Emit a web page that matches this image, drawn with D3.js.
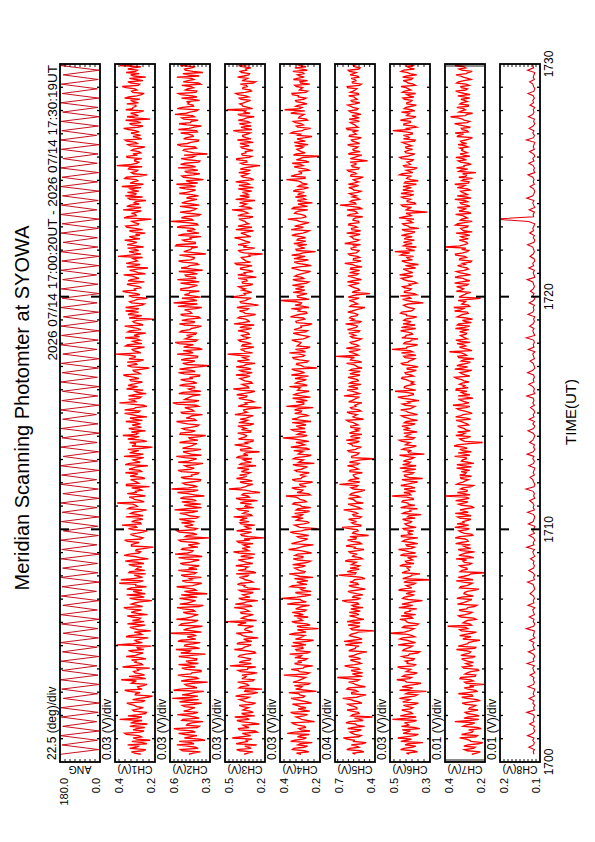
<!DOCTYPE html>
<html>
<head>
<meta charset="utf-8">
<title>Meridian Scanning Photomter at SYOWA</title>
<script src="https://cdn.jsdelivr.net/npm/d3@7"></script>
<style>
  body { margin: 0; background: #fff; }
  svg { display: block; font-family: "Liberation Sans", Arial, sans-serif; }
</style>
</head>
<body>
<svg id="chart" width="595" height="842"></svg>
<script>
// scan angle (deg), one sample every 12 s from 17:00:20
var angDeg = [
  176,6,171,12,179,3,168,15,174,8,177,4,165,11,172,2,178,9,170,14,
  175,5,169,13,178,7,166,10,173,3,179,12,167,6,174,16,171,4,177,9,
  168,11,176,2,172,14,179,7,165,10,174,5,170,13,178,3,167,8,175,15,
  173,4,179,11,166,6,177,13,171,2,175,9,168,16,178,5,172,10,169,3,
  177,12,170,7,174,1,167,14,179,8,173,4,176,11,165,6,178,13,171,2,
  174,9,168,15,177,5,172,3,179,10,166,12,175,7,170,4,178,14,173,8,
  169,2,176,11,171,6,178,13,167,9,174,4,179,15,172,7,175,3,168,10,
  177,5,170,12,174,8,166,3,178,11
];
// channel outputs (mV). chN: samples every 6 s from 17:00:20,
// chNMid: the samples taken 3 s after each of those
var ch1 = [
  271,318,246,295,337,262,224,309,281,352,255,290,326,238,301,377,266,284,243,312,
  258,303,341,249,279,212,297,330,264,287,240,308,369,277,252,299,283,226,321,268,
  294,245,344,279,312,256,290,392,263,301,234,329,276,221,306,285,338,254,280,315,
  237,319,268,356,287,301,215,327,276,249,309,341,243,296,282,371,262,304,331,251,
  286,312,255,349,233,301,328,272,294,208,318,279,352,260,306,289,238,333,297,270,
  317,261,346,284,308,242,325,296,389,271,310,248,339,298,280,227,343,291,322,265,
  302,348,275,311,236,329,292,281,355,258,307,336,213,299,327,269,304,361,285,247,
  331,289,272,346,306,240,318,284,352,297,259,378,303,279,333,244,300,342,287,316,
  263,325,301,358,283,309,229,338,295,278,330,299,396,286,314,252,336,297,275,349,
  305,246,327,289,352,274,311,207,299,335,282,296,347,265,317,304,238,331,290,362,
  303,278,340,253,321,296,357,284,327,235,301,344,288,309,385,271,330,298,257,339,
  291,352,310,276,249,328,299,346,282,316,218,337,297,288,359,270,323,305,245,334,
  349,295,281,324,366,258,308,294,343,239,318,286,329,391,291,302,266,341,311,280,
  309,251,335,297,350,287,272,320,299,357,260,328,292,224,340,301,279,346,310,296,
  283,322,352,291,254,317,300,364,277,336,296,246,322,344,288,310,375,272,301,333
];
var ch1Mid = [
  302,259,327,284,241,316,290,268,343,277,310,251,296,322,264,288,335,247,305,281,
  291,327,266,312,238,299,274,351,283,258,318,293,246,330,271,307,289,362,262,300,
  317,276,298,259,333,286,218,311,292,270,345,265,304,283,326,249,296,313,272,339,
  284,300,337,262,318,276,293,254,342,287,265,320,296,379,258,311,283,247,326,295,
  266,331,290,308,275,354,281,296,249,318,302,337,271,286,323,260,308,291,365,274,
  299,283,260,322,271,336,288,311,254,303,329,277,294,266,317,343,281,306,251,324,
  285,267,330,292,349,274,309,256,291,327,281,262,315,298,241,336,279,294,318,303,
  268,314,298,263,325,289,352,276,307,241,319,295,332,270,304,288,259,315,334,286,
  320,281,342,274,305,262,317,291,339,256,300,324,271,308,283,347,265,312,290,277,
  286,337,271,315,260,303,292,329,266,318,347,281,305,253,327,290,312,276,339,298,
  271,319,296,334,280,311,249,302,291,341,274,316,297,262,324,305,282,337,296,313,
  318,275,329,297,312,262,340,285,303,272,355,294,318,268,307,341,279,296,326,262,
  297,338,312,270,299,325,286,351,274,308,293,333,264,318,281,302,340,287,271,318,
  278,323,288,341,266,310,298,279,333,286,314,271,347,300,283,322,256,312,295,341,
  305,276,331,268,311,290,344,283,317,260,328,305,279,298,336,271,300,319,287,310
];
var ch2 = [
  458,372,521,409,549,440,338,492,397,536,431,572,381,470,352,503,418,545,389,466,
  413,507,362,479,583,391,455,346,524,419,488,317,465,401,541,436,367,512,452,387,
  480,399,534,335,458,556,414,487,373,519,445,402,598,428,471,357,515,410,552,439,
  388,501,426,548,350,468,408,529,455,321,492,417,550,393,478,437,365,517,404,538,
  461,381,523,420,486,359,562,437,513,391,463,411,533,305,476,428,547,397,491,452,
  415,530,386,478,430,566,364,493,449,402,522,343,469,426,588,394,487,438,371,518,
  439,385,540,418,489,352,463,400,553,442,502,368,474,422,529,390,458,332,521,410,
  507,395,468,551,416,452,356,516,433,489,404,579,383,472,428,534,369,461,420,497,
  421,520,454,377,536,437,469,303,505,414,482,392,546,448,358,498,424,561,396,467,
  476,403,514,439,364,530,418,461,385,521,446,491,362,471,574,399,510,432,458,380,
  519,427,462,381,545,411,486,436,355,517,452,398,535,420,465,331,497,443,392,550,
  411,505,449,538,383,473,428,519,399,594,437,490,372,524,417,459,380,512,440,477,
  386,531,434,485,408,552,453,349,498,425,470,392,540,441,487,376,516,414,319,466,
  493,412,546,444,385,478,430,520,402,457,365,532,439,495,416,563,451,388,509,428,
  455,378,514,432,538,400,470,446,370,501,420,549,461,354,486,437,523,393,468,450
];
var ch2Mid = [
  427,506,389,468,420,531,375,452,488,410,529,396,476,437,512,381,463,425,498,441,
  489,417,530,385,446,509,420,573,398,474,431,516,388,492,444,367,478,411,536,459,
  402,468,435,519,447,378,491,425,541,406,470,433,364,498,419,527,452,389,481,423,
  471,414,502,381,527,437,473,396,516,448,403,485,431,362,509,454,492,418,470,397,
  416,498,452,381,535,409,470,428,505,441,378,519,452,487,398,531,416,466,425,514,
  480,401,456,527,391,473,440,369,512,433,498,415,544,389,461,425,503,374,489,436,
  392,512,447,470,404,538,426,491,365,477,420,506,438,398,482,451,375,525,443,489,
  446,383,521,405,478,434,509,421,462,385,547,418,490,451,372,503,437,415,528,399,
  483,428,379,493,411,529,384,471,440,517,396,458,427,501,382,466,533,409,487,441,
  409,526,451,396,487,420,512,374,500,437,463,410,541,395,481,428,371,492,452,519,
  461,394,522,439,408,479,395,534,424,468,386,503,445,417,529,402,473,436,558,410,
  488,442,367,501,435,416,547,391,472,428,515,383,462,449,403,526,437,480,398,454,
  437,476,408,530,449,392,480,424,511,376,490,441,408,521,385,467,432,495,420,501,
  402,519,471,389,498,426,463,395,537,418,474,447,389,512,431,478,402,546,423,466,
  476,433,398,520,406,486,425,512,387,465,439,381,504,427,491,410,459,436,522,404
];
var ch3 = [
  356,291,413,325,262,379,341,446,307,370,275,398,347,243,381,318,427,351,288,366,
  323,394,270,368,337,421,297,352,222,384,331,405,281,349,373,259,402,328,463,302,
  372,309,399,342,278,430,354,304,391,338,251,366,415,321,347,287,381,492,333,357,
  287,383,336,431,306,360,254,397,345,314,378,236,357,407,291,349,392,324,268,401,
  346,419,292,370,329,382,276,437,341,311,363,396,315,208,374,334,413,300,353,381,
  320,367,435,305,349,397,284,344,385,256,418,329,362,303,470,345,290,388,336,364,
  391,311,352,408,267,377,341,297,395,358,241,383,322,428,348,289,372,338,405,305,
  342,404,283,355,386,314,426,334,361,226,378,349,302,397,336,364,276,438,327,373,
  305,372,343,418,296,389,332,359,274,407,346,315,481,351,384,283,366,336,399,318,
  375,325,401,300,352,432,318,345,387,270,362,336,411,249,380,347,303,394,357,329,
  348,398,292,371,341,265,405,355,320,384,297,423,345,368,313,219,390,330,362,402,
  311,365,428,334,381,286,357,403,322,350,396,290,373,343,447,315,360,391,275,352,
  389,336,299,401,351,318,420,285,366,343,397,309,356,237,383,339,411,298,374,347,
  329,381,353,288,407,341,368,311,438,348,304,392,331,360,281,404,355,487,327,370,
  361,308,392,343,419,302,367,334,385,271,351,406,322,375,339,306,398,349,293,366
];
var ch3Mid = [
  329,387,304,352,416,333,296,371,345,258,392,320,364,301,411,338,277,376,313,349,
  367,299,343,392,318,376,253,347,396,323,358,289,374,341,306,382,331,269,359,394,
  314,356,389,271,340,368,327,411,298,361,334,383,292,352,318,405,341,263,376,322,
  378,318,355,300,423,339,371,312,366,288,394,327,350,381,309,362,334,417,291,345,
  327,362,338,401,286,350,394,322,371,344,289,408,357,325,381,301,366,339,277,388,
  389,333,297,366,321,410,350,302,359,387,318,373,237,348,379,327,360,295,414,336,
  331,378,321,347,389,303,362,415,328,345,381,306,367,332,291,399,344,362,308,377,
  370,314,397,331,343,288,375,356,319,401,336,283,361,343,412,306,384,322,355,296,
  352,388,312,338,371,305,417,342,380,316,366,397,293,359,327,374,302,386,344,361,
  319,356,341,389,281,368,327,403,312,349,391,324,362,309,386,331,455,347,299,372,
  382,316,369,334,401,320,347,290,383,336,412,308,354,377,321,359,398,277,340,363,
  345,392,306,353,331,419,298,362,341,373,315,404,327,367,296,382,338,352,420,318,
  324,370,352,287,396,333,359,307,378,324,343,386,301,362,335,413,317,370,343,291,
  371,318,388,342,305,367,330,397,298,381,353,314,400,337,379,312,346,293,366,389,
  336,379,322,401,350,312,365,340,288,373,331,358,316,387,345,371,302,357,330,381
];
var ch4 = [
  295,256,338,281,311,239,326,268,297,364,250,305,276,332,227,291,320,262,347,284,
  270,317,242,294,345,276,306,218,322,290,258,335,299,272,381,253,309,283,236,327,
  312,265,298,352,247,321,287,270,336,232,301,276,325,291,207,315,267,341,296,259,
  283,339,269,306,252,328,292,392,275,310,244,298,349,265,316,289,235,322,280,304,
  326,273,299,248,334,285,312,266,357,296,233,320,278,303,257,331,293,212,315,281,
  263,308,342,287,270,319,246,298,330,276,306,370,258,294,322,269,302,237,339,290,
  301,254,325,280,313,228,296,333,266,309,286,251,346,277,320,293,386,264,299,331,
  275,319,290,245,340,302,271,296,328,234,310,281,263,337,292,318,255,305,353,279,
  311,268,297,343,277,326,216,293,315,258,332,284,301,273,323,249,307,295,341,269,
  288,334,262,309,296,240,321,276,348,304,268,299,255,325,292,398,281,314,265,300,
  323,279,305,256,336,290,313,267,298,342,243,311,286,330,274,303,222,320,294,266,
  297,315,272,341,286,253,309,327,279,303,361,270,296,320,261,332,291,238,313,284,
  268,305,334,281,311,263,297,368,275,324,292,255,308,285,339,271,300,204,319,293,
  316,283,259,329,297,273,310,346,288,246,319,295,333,268,303,280,324,377,290,306,
  286,322,270,307,340,262,296,318,251,300,333,279,312,287,264,326,298,276,330,291
];
var ch4Mid = [
  318,277,331,262,298,347,285,312,253,326,294,273,311,340,264,305,282,330,251,309,
  297,338,264,319,283,301,356,270,297,328,251,312,285,317,266,303,344,279,308,291,
  274,326,291,263,317,285,343,299,261,323,288,354,270,313,296,249,322,287,308,331,
  305,276,322,290,364,268,299,316,245,323,289,271,338,297,260,328,302,354,275,314,
  289,337,261,310,286,325,242,298,319,277,343,296,262,313,288,349,271,301,328,256,
  318,284,296,327,252,310,293,336,268,300,322,249,315,286,341,298,263,324,295,273,
  279,315,293,262,336,307,284,321,244,300,331,268,309,294,256,327,287,313,271,342,
  301,270,339,288,314,259,327,292,306,368,281,319,297,248,330,284,312,299,264,322,
  287,325,258,309,296,341,282,318,264,302,336,277,353,290,267,314,298,322,283,256,
  314,271,330,293,259,318,305,283,327,266,308,343,282,297,320,254,311,289,334,276,
  296,338,267,313,281,325,294,247,319,304,274,329,258,301,342,285,316,276,307,331,
  271,309,296,322,265,344,283,301,255,316,290,275,327,304,339,262,310,296,272,323,
  309,278,320,257,302,289,316,275,345,293,308,268,329,299,256,318,285,333,274,307,
  292,326,301,274,315,240,298,333,279,311,284,322,262,307,291,346,276,302,321,265,
  319,282,309,338,271,303,287,326,296,262,314,301,280,336,290,270,318,295,310,283
];
var ch5 = [
  547,483,612,521,578,466,555,637,504,570,533,605,478,546,593,515,419,567,526,609,
  536,586,497,558,642,509,574,531,611,472,549,598,518,683,541,492,580,527,628,503,
  562,508,597,535,461,576,545,623,496,568,522,591,549,400,582,514,556,609,483,550,
  521,593,547,489,573,530,646,507,561,539,603,472,571,526,589,554,500,672,543,575,
  587,515,558,624,495,569,533,595,482,548,581,517,606,541,448,568,527,593,507,560,
  538,598,503,567,546,635,518,573,488,552,600,531,578,505,561,537,667,514,584,548,
  564,495,587,541,606,520,556,404,576,528,594,546,502,572,539,616,511,561,592,525,
  509,582,544,596,486,566,535,610,521,584,552,498,574,543,632,517,568,531,598,505,
  572,531,602,513,559,588,497,544,614,527,578,692,541,596,509,561,537,586,521,568,
  546,597,515,570,532,621,505,558,582,529,604,543,476,576,547,593,519,571,437,553,
  525,575,551,607,501,566,536,591,515,580,549,627,506,561,532,599,527,576,545,508,
  583,519,568,541,613,508,576,550,595,523,564,492,587,539,610,517,663,548,572,531,
  541,593,506,570,545,599,524,562,488,580,552,607,519,575,543,455,585,533,600,511,
  566,528,605,538,577,502,591,554,524,613,541,573,517,594,549,505,582,536,566,603,
  514,579,548,598,526,564,536,609,503,571,551,522,587,541,601,512,562,577,530,554
];
var ch5Mid = [
  569,512,590,538,497,561,609,524,552,586,501,565,537,618,489,554,580,519,573,536,
  553,604,521,583,537,466,576,548,598,515,562,531,609,494,570,545,516,590,553,521,
  585,533,561,509,597,548,520,574,632,497,558,582,526,571,540,603,512,566,529,592,
  544,510,582,558,523,612,536,568,491,578,545,520,596,533,562,475,581,547,608,519,
  532,577,541,599,512,563,586,529,555,617,502,571,544,589,523,561,534,648,507,575,
  571,516,559,531,587,502,547,602,540,564,513,588,549,476,579,528,563,596,518,557,
  541,588,524,561,533,592,509,574,546,520,603,531,567,594,517,552,584,498,569,546,
  580,527,563,612,539,551,588,506,576,543,529,597,555,516,566,542,609,533,558,590,
  525,566,543,588,510,573,531,562,499,584,554,526,569,540,615,522,575,549,503,582,
  569,522,607,541,560,514,578,591,535,550,571,507,588,529,564,550,601,538,572,516,
  553,592,518,566,541,603,525,550,584,496,572,540,563,515,589,542,520,580,559,627,
  537,561,584,512,551,574,534,598,521,565,545,610,531,556,501,578,543,587,516,570,
  575,528,560,597,523,562,550,514,582,540,596,526,569,543,587,520,555,499,578,562,
  542,584,515,569,531,593,540,565,608,527,551,586,546,518,573,539,595,527,582,549,
  571,535,558,523,585,548,606,516,569,543,579,530,561,592,521,553,537,584,548,566
];
var ch6 = [
  404,362,447,391,425,335,416,461,377,435,398,351,443,412,384,488,369,422,395,441,
  386,433,358,410,453,377,421,318,402,439,371,417,466,392,427,364,408,447,381,414,
  423,379,441,404,352,431,397,459,372,415,437,389,499,406,380,429,358,418,451,394,
  371,425,402,456,386,412,338,437,398,420,374,443,408,383,431,302,417,392,440,403,
  414,451,380,423,397,366,433,404,457,378,419,391,427,361,443,408,382,435,400,425,
  392,437,412,344,425,401,447,376,410,435,385,489,402,372,429,396,418,362,441,406,
  428,382,416,451,369,406,433,392,420,328,410,439,386,423,400,453,378,414,431,396,
  404,441,374,418,396,433,362,412,447,388,423,401,355,437,410,384,475,402,427,379,
  382,419,439,396,425,368,414,390,443,405,376,431,408,387,490,416,362,425,394,441,
  420,392,447,371,410,435,398,423,366,417,441,384,406,432,333,414,396,449,378,427,
  394,437,404,378,431,408,452,386,418,372,423,398,441,410,382,434,476,405,368,421,
  433,378,414,443,390,425,356,408,437,398,380,427,404,313,419,392,443,376,414,431,
  401,445,382,416,435,368,423,396,410,452,386,418,364,432,406,389,441,415,376,425,
  387,422,408,439,374,404,433,388,486,416,380,430,398,424,370,410,443,394,420,368,
  416,390,435,402,372,427,408,445,384,418,394,437,366,412,431,400,378,425,406,388
];
var ch6Mid = [
  418,385,431,371,409,446,392,423,358,414,439,379,406,428,367,411,449,388,420,398,
  410,376,437,399,421,364,408,452,387,416,345,425,402,437,381,419,396,462,373,411,
  384,425,408,362,436,415,388,421,397,451,376,412,429,392,437,366,406,422,387,445,
  426,399,366,418,441,385,410,428,378,403,457,391,419,373,411,437,396,350,425,407,
  395,436,418,387,412,448,372,426,392,414,361,437,405,443,386,410,429,369,417,398,
  421,374,404,437,396,363,423,409,440,383,418,396,431,408,375,446,390,417,337,426,
  389,430,371,409,437,398,416,380,452,405,392,427,368,413,441,386,424,399,365,433,
  416,395,428,362,411,443,387,419,400,376,438,412,394,461,383,418,371,429,409,394,
  404,442,383,421,391,414,359,436,410,388,425,371,443,400,417,383,431,397,360,422,
  387,418,407,443,375,402,431,389,418,447,396,379,422,409,385,437,404,366,428,401,
  428,397,366,412,443,386,419,405,434,394,358,425,388,416,447,401,377,420,433,389,
  406,429,389,418,375,440,402,431,387,413,455,394,420,381,409,436,372,414,398,442,
  381,414,436,393,407,428,359,417,392,439,403,378,426,398,415,384,451,393,420,408,
  419,392,427,377,433,411,389,420,404,366,431,398,448,385,417,402,376,429,393,416,
  397,428,381,415,438,396,420,373,409,434,387,416,401,444,378,413,429,391,415,405
];
var ch7 = [
  266,223,303,249,285,211,276,327,238,292,259,219,310,267,351,231,283,253,299,235,
  277,247,314,228,292,262,333,240,284,256,205,302,270,321,246,289,232,307,261,296,
  288,317,249,301,272,343,246,309,283,225,297,327,266,318,286,387,276,300,244,320,
  298,264,330,286,241,313,279,341,259,305,289,231,322,275,309,260,334,282,196,315,
  291,327,267,310,345,281,313,252,334,295,273,320,287,349,261,306,330,278,310,340,
  310,271,337,294,284,325,258,316,301,347,279,398,306,291,323,268,341,310,283,322,
  327,294,276,342,309,256,318,293,352,303,268,326,307,338,212,316,290,346,299,273,
  303,337,289,318,272,347,311,283,329,295,360,280,316,261,334,304,291,343,309,327,
  281,317,352,298,325,266,313,341,290,319,255,335,302,378,286,328,310,274,346,300,
  323,292,310,348,276,331,298,262,339,313,289,321,356,283,307,334,222,317,294,343,
  307,342,284,319,296,350,272,328,305,290,337,313,267,325,301,348,288,317,401,303,
  291,329,311,276,345,306,322,285,336,264,317,299,347,283,311,338,291,324,302,270,
  339,297,322,288,313,351,280,307,331,293,245,319,343,305,287,334,310,276,325,302,
  311,284,335,316,296,263,327,349,290,318,301,352,277,313,372,289,330,298,341,283,
  318,303,276,336,302,347,288,321,295,333,270,309,345,284,316,297,350,281,310,326
];
var ch7Mid = [
  242,289,258,306,231,271,295,246,317,264,282,238,298,251,274,305,229,290,266,281,
  258,297,271,239,316,265,289,246,304,277,293,258,325,249,300,271,236,313,283,257,
  303,262,321,279,295,251,334,286,257,311,270,299,243,327,296,268,310,287,257,332,
  276,312,292,253,338,297,266,318,285,303,249,327,291,263,344,288,305,271,324,289,
  317,278,303,292,256,331,296,318,271,308,347,284,299,327,265,319,293,351,282,305,
  286,325,270,349,306,295,266,332,285,312,296,274,338,289,311,257,329,298,320,267,
  299,319,308,268,341,287,312,295,276,334,310,289,354,280,301,326,272,311,337,298,
  322,282,306,345,291,318,264,300,340,276,313,302,333,291,276,318,345,284,301,315,
  305,343,276,314,292,351,287,320,273,308,332,292,318,265,309,297,340,322,288,312,
  296,327,281,302,339,268,313,293,325,284,352,307,277,316,298,281,330,303,271,318,
  323,291,352,276,310,329,295,343,283,316,300,272,327,292,346,311,281,296,325,287,
  310,283,321,298,264,316,289,347,302,324,288,312,270,330,293,275,319,287,351,296,
  287,314,275,339,300,283,317,262,295,312,331,286,304,269,322,293,346,305,289,316,
  325,298,292,322,276,341,307,284,314,273,329,290,305,336,299,262,317,309,284,326,
  289,320,307,274,327,296,318,280,342,305,286,321,294,264,330,309,288,318,301,275
];
// CH8 (mV), one sample every 6 s from 17:00:20
var ch8 = [
  115,117,114,128,116,114,118,115,131,117,113,116,114,126,115,117,114,116,133,114,
  116,113,118,115,127,114,117,115,113,130,116,114,117,115,125,113,116,118,114,132,
  115,117,113,116,129,114,116,118,115,126,113,117,115,114,134,116,113,117,115,127,
  114,116,118,113,130,115,117,114,116,125,118,113,115,117,131,114,116,113,118,128,
  116,114,117,115,124,113,116,118,114,133,115,117,113,116,127,114,118,115,113,129,
  117,115,113,116,131,114,117,115,118,126,113,116,114,117,135,115,113,116,118,125,
  114,117,115,113,128,116,114,118,115,132,117,113,116,114,126,118,115,113,117,130,
  116,113,118,114,127,115,117,113,116,124,114,118,115,117,133,113,116,114,118,128,
  115,117,114,116,131,118,113,115,117,125,114,116,118,113,129,115,117,114,116,134,
  113,116,118,115,126,117,114,116,113,130,118,115,117,114,127,116,113,118,115,124,
  117,114,116,118,132,113,115,117,114,128,116,118,113,115,125,117,114,116,118,131,
  115,113,117,114,126,116,118,115,113,129,214,116,117,114,127,113,116,118,115,133,
  118,115,113,116,125,114,117,115,118,130,113,116,114,117,128,115,118,113,116,126,
  114,117,115,113,134,116,114,118,115,127,117,113,116,114,129,118,115,117,113,125,
  116,118,114,117,130,115,113,116,118,126,114,117,115,113,131,116,118,114,117,128
];

var panelNames = ["ANG", "CH1(V)", "CH2(V)", "CH3(V)", "CH4(V)", "CH5(V)", "CH6(V)", "CH7(V)", "CH8(V)"];
var panelMin = [0, 200, 300, 200, 200, 400, 300, 200, 100];
var panelMax = [180, 400, 600, 500, 400, 700, 500, 400, 200];
var minLabels = ["0.0", "0.2", "0.3", "0.2", "0.2", "0.4", "0.3", "0.2", "0.1"];
var maxLabels = ["180.0", "0.4", "0.6", "0.5", "0.4", "0.7", "0.5", "0.4", "0.2"];
var divSize = [22.5, 30, 30, 30, 30, 40, 30, 10, 10];
var divLabels = ["22.5 (deg)/div", "0.03 (V)/div", "0.03 (V)/div", "0.03 (V)/div", "0.03 (V)/div",
                 "0.04 (V)/div", "0.03 (V)/div", "0.01 (V)/div", "0.01 (V)/div"];
var timeTicks = [0, 10, 20, 30];
var timeLabels = ["1700", "1710", "1720", "1730"];

// put the two sample phases of a channel back in time order
function interleave(a, b) { return d3.merge(d3.zip(a, b)); }

var series = [angDeg,
  interleave(ch1, ch1Mid), interleave(ch2, ch2Mid), interleave(ch3, ch3Mid), interleave(ch4, ch4Mid),
  interleave(ch5, ch5Mid), interleave(ch6, ch6Mid), interleave(ch7, ch7Mid), ch8];
var stepSec = [12, 3, 3, 3, 3, 3, 3, 3, 6];
var startSec = 20;

// the plot is laid out landscape and turned onto the portrait page
var svg = d3.select("#chart");
var g = svg.append("g").attr("transform", "translate(0,842) rotate(-90)");

var x = d3.scaleLinear().domain([0, 30]).range([80, 778]);
var band = d3.scaleBand().domain(panelNames).range([60, 540]).paddingInner(15 / 55).paddingOuter(0);
var bh = band.bandwidth();

panelNames.forEach(function(name, i) {
  var top = band(name);
  var y = d3.scaleLinear().domain([panelMin[i], panelMax[i]]).range([top + bh, top]);

  g.append("clipPath").attr("id", "clip" + i)
    .append("rect").attr("x", x(0)).attr("y", top).attr("width", x(30) - x(0)).attr("height", bh);

  var line = d3.line()
    .x(function(d, j) { return x((startSec + j * stepSec[i]) / 60); })
    .y(function(d) { return y(d); });

  g.append("path").datum(series[i])
    .attr("clip-path", "url(#clip" + i + ")")
    .attr("d", line)
    .attr("fill", "none")
    .attr("stroke", i == 0 ? "#c8101e" : (i == 8 ? "#e00010" : "#ff0000"))
    .attr("stroke-width", i == 0 ? 1 : (i == 8 ? 1.1 : 1.35));

  // minute ticks on both long edges
  var mins = d3.range(1, 30);
  g.selectAll(null).data(mins).enter().append("line")
    .attr("x1", function(m) { return x(m); }).attr("x2", function(m) { return x(m); })
    .attr("y1", top).attr("y2", function(m) { return top + (m % 10 == 0 ? 9 : 3); })
    .attr("stroke", "#000").attr("stroke-width", function(m) { return m % 10 == 0 ? 2 : 1.3; });
  g.selectAll(null).data(mins).enter().append("line")
    .attr("x1", function(m) { return x(m); }).attr("x2", function(m) { return x(m); })
    .attr("y1", top + bh).attr("y2", function(m) { return top + bh - (m % 10 == 0 ? 9 : 3); })
    .attr("stroke", "#000").attr("stroke-width", function(m) { return m % 10 == 0 ? 2 : 1.3; });

  // per-division ticks on both short edges
  var divs = d3.range(panelMin[i] + divSize[i], panelMax[i] - 1e-6, divSize[i]);
  g.selectAll(null).data(divs).enter().append("line")
    .attr("x1", x(0)).attr("x2", x(0) + 3)
    .attr("y1", function(d) { return y(d); }).attr("y2", function(d) { return y(d); })
    .attr("stroke", "#000").attr("stroke-width", 0.9);
  g.selectAll(null).data(divs).enter().append("line")
    .attr("x1", x(30)).attr("x2", x(30) - 3)
    .attr("y1", function(d) { return y(d); }).attr("y2", function(d) { return y(d); })
    .attr("stroke", "#000").attr("stroke-width", 0.9);

  g.append("rect")
    .attr("x", x(0)).attr("y", top).attr("width", x(30) - x(0)).attr("height", bh)
    .attr("fill", "none").attr("stroke", "#000").attr("stroke-width", 1.8);

  g.append("text").attr("x", x(0) + 2).attr("y", top - 4)
    .attr("font-size", 12).text(divLabels[i]);

  g.append("text").attr("x", 64).attr("y", top + 8)
    .attr("text-anchor", "end").attr("font-size", 11).text(maxLabels[i]);
  g.append("text").attr("x", 64).attr("y", top + bh)
    .attr("text-anchor", "end").attr("font-size", 11).text(minLabels[i]);

  g.append("text")
    .attr("transform", "translate(76," + (top + bh / 2) + ") rotate(-90)")
    .attr("text-anchor", "middle").attr("font-size", 10.5).text(name);
});

g.selectAll(null).data(timeTicks).enter().append("text")
  .attr("x", function(d) { return x(d); }).attr("y", 553)
  .attr("text-anchor", "middle").attr("font-size", 12)
  .text(function(d, i) { return timeLabels[i]; });

g.append("text").attr("x", 430).attr("y", 576)
  .attr("text-anchor", "middle").attr("font-size", 15).text("TIME(UT)");

g.append("text").attr("x", 434).attr("y", 29)
  .attr("text-anchor", "middle").attr("font-size", 20).text("Meridian Scanning Photomter at SYOWA");

g.append("text").attr("x", 777).attr("y", 57)
  .attr("text-anchor", "end").attr("font-size", 13.5)
  .text("2026 07/14 17:00:20UT - 2026 07/14 17:30:19UT");
</script>
</body>
</html>
